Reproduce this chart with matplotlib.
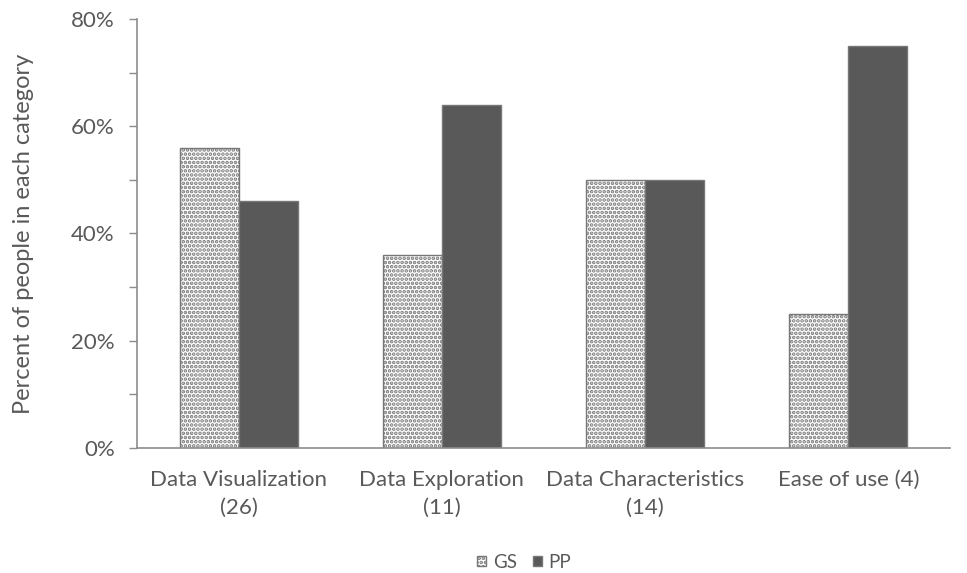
import matplotlib
matplotlib.use("Agg")
import matplotlib.pyplot as plt
import numpy as np
from matplotlib.ticker import MultipleLocator, PercentFormatter

categories = ["Data Visualization\n(26)", "Data Exploration\n(11)", "Data Characteristics\n(14)", "Ease of use (4)"]
gs_values = [56, 36, 50, 25]
pp_values = [46, 64, 50, 75]
series_names = ["GS", "PP"]

plt.rcParams["font.family"] = ["Lato", "DejaVu Sans"]
plt.rcParams["hatch.linewidth"] = 1.8
plt.rcParams["hatch.color"] = "#666666"

text_color = "#595959"
axis_color = "#8c8c8c"

fig = plt.figure(figsize=(9.67, 5.73), dpi=100)
ax = fig.add_axes([137 / 967, 1 - 448 / 573, (950 - 137) / 967, (448 - 19) / 573])

x = np.arange(len(categories))
w = 0.29
ax.bar(x - w / 2, gs_values, w, facecolor="white", edgecolor="#777777",
       hatch="....", linewidth=1.0, label=series_names[0])
ax.bar(x + w / 2, pp_values, w, facecolor="#595959", edgecolor="#777777",
       linewidth=1.0, label=series_names[1])

ax.set_xlim(-0.5, len(categories) - 0.5)
ax.set_ylim(0, 80)
ax.yaxis.set_major_locator(MultipleLocator(20))
ax.yaxis.set_minor_locator(MultipleLocator(10))
ax.yaxis.set_major_formatter(PercentFormatter(decimals=0))
ax.set_xticks(x)
ax.set_xticklabels(categories, fontsize=16, color=text_color, linespacing=1.5)
ax.tick_params(axis="x", length=0, pad=16)
ax.tick_params(axis="y", which="both", length=6, width=1, color=axis_color,
               labelsize=16, labelcolor=text_color, pad=10)

for side in ("top", "right"):
    ax.spines[side].set_visible(False)
for side in ("left", "bottom"):
    ax.spines[side].set_color(axis_color)
    ax.spines[side].set_linewidth(1.2)

ax.set_ylabel("Percent of people in each category", fontsize=17, color=text_color)
ax.yaxis.set_label_coords(-0.127, 0.5)

leg = fig.legend(loc="center", bbox_to_anchor=(524 / 967, 1 - 562 / 573), ncol=2,
                 frameon=False, fontsize=13.5, handlelength=0.5, handleheight=0.5,
                 columnspacing=0.85, handletextpad=0.35, labelcolor=text_color)

fig.savefig("out.png", dpi=100)
